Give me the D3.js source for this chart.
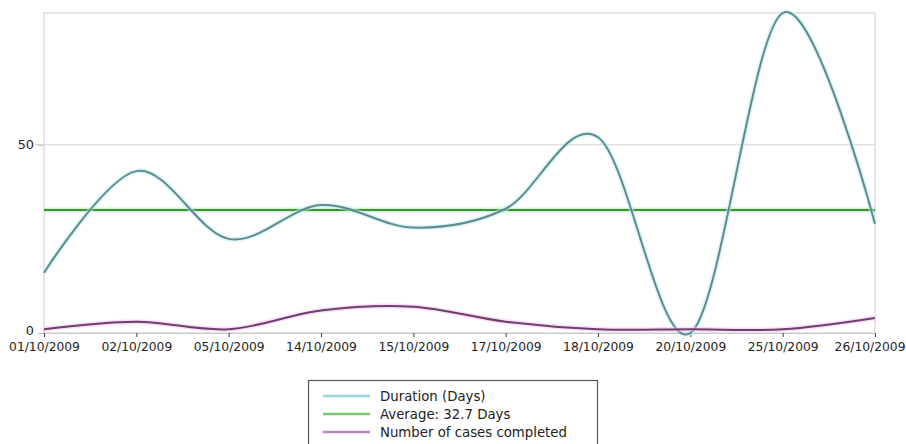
<!DOCTYPE html>
<html>
<head>
<meta charset="utf-8">
<script src="https://cdn.jsdelivr.net/npm/d3@7"></script>
<style>
  html, body { margin: 0; padding: 0; background: #fff; }
  svg { display: block; }
  text { font-family: "DejaVu Sans", sans-serif; fill: #222; }
</style>
</head>
<body>
<svg id="chart" width="906" height="444"></svg>
<script>
// Completion dates (x categories)
const dates = ["01/10/2009", "02/10/2009", "05/10/2009", "14/10/2009", "15/10/2009",
               "17/10/2009", "18/10/2009", "20/10/2009", "25/10/2009", "26/10/2009"];
// Duration of each case in days
const durationDays = [16, 43, 25, 34, 28, 33, 52, 0, 85, 29];
// Number of cases completed on each date
const casesCompleted = [1, 3, 1, 6, 7, 3, 1, 1, 1, 4];
// Average duration
const averageDays = 32.7;
// Y axis tick values
const yTicks = [0, 50];
// Legend entries
const legendLabels = ["Duration (Days)", "Average: 32.7 Days", "Number of cases completed"];

const svg = d3.select("#chart");
const plot = { left: 44, right: 875, top: 13, bottom: 333 };

const x = d3.scalePoint().domain(dates).range([plot.left, plot.right]);
const y = d3.scaleLinear().domain([0, 85]).range([plot.bottom, plot.top]);

// Plot frame and gridlines
const g = svg.append("g");
g.append("rect")
  .attr("x", plot.left).attr("y", plot.top)
  .attr("width", plot.right - plot.left).attr("height", plot.bottom - plot.top)
  .attr("fill", "none").attr("stroke", "#d6d6d6").attr("stroke-width", 1.2);

g.selectAll(".grid").data(yTicks.filter(d => d > 0)).join("line")
  .attr("x1", plot.left - 9).attr("x2", plot.right)
  .attr("y1", d => y(d)).attr("y2", d => y(d))
  .attr("stroke", "#d6d6d6").attr("stroke-width", 1.2);

// Y axis
const yAxis = d3.axisLeft(y).tickValues(yTicks).tickSize(6).tickPadding(4);
const yg = svg.append("g").attr("transform", `translate(${plot.left},0)`).call(yAxis);
yg.select(".domain").remove();
yg.selectAll(".tick line").attr("stroke", "#bbb");
yg.selectAll(".tick text").style("font-size", "12.8px").attr("fill", "#222");
// lift the zero label clear of the date labels below it
yg.selectAll(".tick text").filter(d => d === 0).attr("y", -3);

// X axis
const xAxis = d3.axisBottom(x).tickSize(4).tickPadding(5);
const xg = svg.append("g").attr("transform", `translate(0,${plot.bottom})`).call(xAxis);
xg.select(".domain").attr("stroke", "#c8c8c8");
xg.selectAll(".tick line").attr("stroke", "#444");
xg.selectAll(".tick text").style("font-size", "12.3px").attr("fill", "#222");
// keep the last date label inside the page edge
xg.selectAll(".tick text").filter(d => d === dates[dates.length - 1])
  .attr("text-anchor", "end").attr("x", 905 - plot.right);

// Series lines with a soft coloured halo
const curve = d3.curveCatmullRom.alpha(0);
function drawSeries(values, halo, core) {
  const line = d3.line().x((d, i) => x(dates[i])).y(d => y(d)).curve(curve);
  svg.append("path").datum(values).attr("d", line)
    .attr("fill", "none").attr("stroke", halo).attr("stroke-width", 5).attr("stroke-opacity", 0.55);
  svg.append("path").datum(values).attr("d", line)
    .attr("fill", "none").attr("stroke", core).attr("stroke-width", 2);
}

// Average line
svg.append("line")
  .attr("x1", plot.left).attr("x2", plot.right)
  .attr("y1", y(averageDays)).attr("y2", y(averageDays))
  .attr("stroke", "#b8ecb0").attr("stroke-width", 5).attr("stroke-opacity", 0.6);
svg.append("line")
  .attr("x1", plot.left).attr("x2", plot.right)
  .attr("y1", y(averageDays)).attr("y2", y(averageDays))
  .attr("stroke", "#3f8f3c").attr("stroke-width", 2);

drawSeries(durationDays, "#bdeef2", "#5f8b8e");
drawSeries(casesCompleted, "#f2c4f0", "#6e3f6c");

// Legend
const legend = svg.append("g").attr("transform", "translate(308,380)");
legend.append("rect")
  .attr("x", 0.5).attr("y", 0.5).attr("width", 289).attr("height", 70)
  .attr("fill", "#fff").attr("stroke", "#555").attr("stroke-width", 1.2);
const legendColors = [["#bdeef2", "#7fb8bc"], ["#b8ecb0", "#4f9a4c"], ["#f2c4f0", "#7d4f7b"]];
const items = legend.selectAll(".item").data(legendLabels).join("g")
  .attr("transform", (d, i) => `translate(0,${16 + i * 18})`);
items.append("line").attr("x1", 15).attr("x2", 62).attr("y1", 0).attr("y2", 0)
  .attr("stroke", (d, i) => legendColors[i][0]).attr("stroke-width", 3);
items.append("line").attr("x1", 15).attr("x2", 62).attr("y1", 0).attr("y2", 0)
  .attr("stroke", (d, i) => legendColors[i][1]).attr("stroke-width", 1);
items.append("text").attr("x", 72).attr("y", 0).attr("dy", "0.35em")
  .style("font-size", "13.3px").text(d => d);
</script>
</body>
</html>
